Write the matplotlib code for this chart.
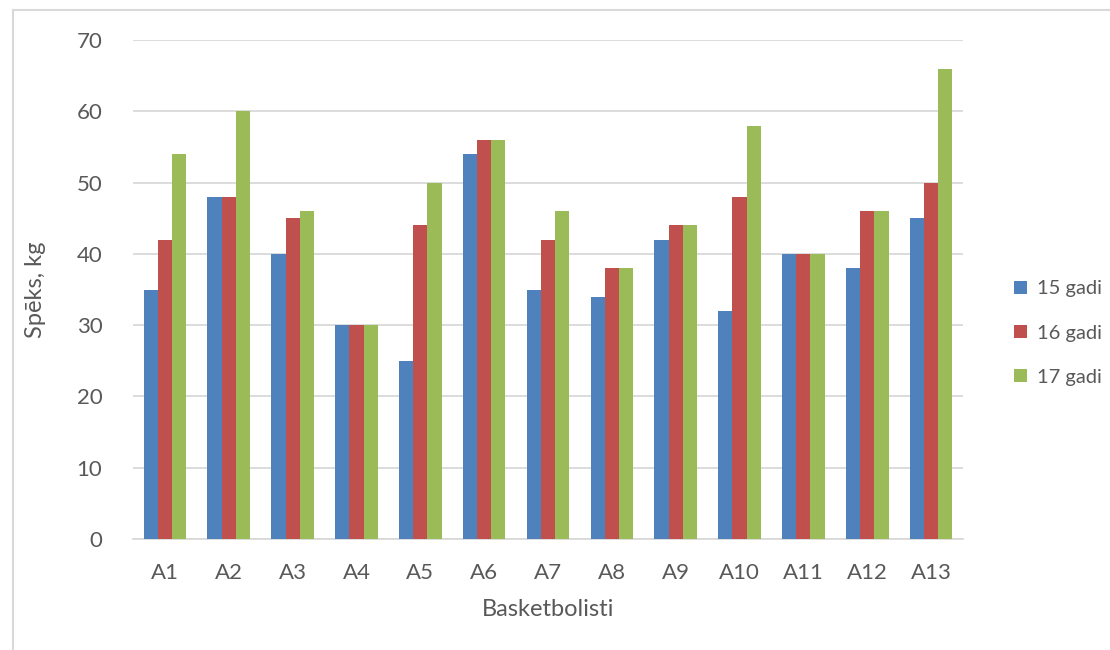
import matplotlib
matplotlib.use("Agg")
import matplotlib.pyplot as plt
import numpy as np
from matplotlib.lines import Line2D
from matplotlib.patches import Patch

plt.rcParams['font.family'] = ['Lato', 'DejaVu Sans']

categories = ["A1", "A2", "A3", "A4", "A5", "A6", "A7", "A8", "A9", "A10", "A11", "A12", "A13"]
age15 = [35, 48, 40, 30, 25, 54, 35, 34, 42, 32, 40, 38, 45]
age16 = [42, 48, 45, 30, 44, 56, 42, 38, 44, 48, 40, 46, 50]
age17 = [54, 60, 46, 30, 50, 56, 46, 38, 44, 58, 40, 46, 66]
series_names = ["15 gadi", "16 gadi", "17 gadi"]
colors = ["#4F81BD", "#C0504D", "#9BBB59"]

W, H = 1110, 650
fig = plt.figure(figsize=(W / 100, H / 100), dpi=100)

# plot area in pixels
left, right, top, bottom = 133, 963, 40, 539
ax = fig.add_axes([left / W, 1 - bottom / H, (right - left) / W, (bottom - top) / H])

text_color = "#595959"
grid_color = "#D9D9D9"

n = len(categories)
x = np.arange(n)
bw = 1 / (3 + 1.5)
for i, (vals, c, name) in enumerate(zip([age15, age16, age17], colors, series_names)):
    ax.bar(x + (i - 1) * bw, vals, width=bw, color=c, label=name, zorder=3, linewidth=0)

ax.set_xlim(-0.5, n - 0.5)
ax.set_ylim(0, 70)
ax.set_yticks(range(0, 71, 10))
ax.set_xticks(x)
ax.set_xticklabels(categories)
ax.yaxis.grid(True, color=grid_color, linewidth=1.3, zorder=0)
ax.set_axisbelow(True)
for s in ["top", "right", "left"]:
    ax.spines[s].set_visible(False)
ax.spines["bottom"].set_color(grid_color)
ax.spines["bottom"].set_linewidth(1.3)
ax.tick_params(axis="both", length=0, labelsize=16, colors=text_color)
ax.tick_params(axis="y", pad=22)
ax.tick_params(axis="x", pad=17)

ax.set_xlabel("Basketbolisti", fontsize=17, color=text_color, labelpad=12)
ax.set_ylabel("Spēks, kg", fontsize=17, color=text_color, labelpad=22)

handles = [Patch(facecolor=c, edgecolor="none") for c in colors]
leg = fig.legend(handles, series_names, loc="center left",
                 bbox_to_anchor=(996 / W, 1 - 333 / H), frameon=False,
                 fontsize=14.5, labelcolor=text_color, handlelength=0.65,
                 handleheight=0.65, handletextpad=0.5, labelspacing=1.35)

# chart border (left and top edges)
fig.add_artist(Line2D([13 / W, 13 / W], [0, 1 - 10 / H], transform=fig.transFigure,
                      color="#D9D9D9", linewidth=1.5))
fig.add_artist(Line2D([13 / W, 1], [1 - 10 / H, 1 - 10 / H], transform=fig.transFigure,
                      color="#D9D9D9", linewidth=1.5))

fig.savefig("out.png", dpi=100, facecolor="white")
